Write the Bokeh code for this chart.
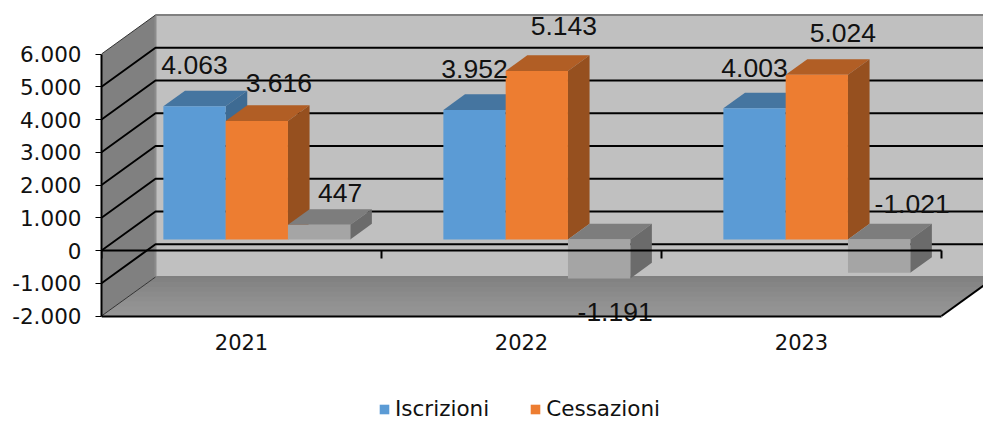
from bokeh.plotting import figure
from bokeh.models import Range1d, FixedTicker, Legend, LegendItem
from bokeh.core.properties import value
from bokeh.embed import file_html
from bokeh.resources import INLINE

# ---- data ----
years = ["2021", "2022", "2023"]
iscrizioni = [4063, 3952, 4003]
cessazioni = [3616, 5143, 5024]
saldo = [447, -1191, -1021]
y_ticks = [-2000, -1000, 0, 1000, 2000, 3000, 4000, 5000, 6000]
y_tick_labels = ["-2.000", "-1.000", "0", "1.000", "2.000", "3.000", "4.000", "5.000", "6.000"]
iscrizioni_labels = ["4.063", "3.952", "4.003"]
cessazioni_labels = ["3.616", "5.143", "5.024"]
saldo_labels = ["447", "-1.191", "-1.021"]

# ---- geometry of the fake 3D box (axis units) ----
DX, DY = 54 / 280, 39 / 32.75 * 1000      # shift of the back wall
Z0, Z1 = 0.285, 0.685                     # depth of the bars
GAP, BW = 0.166, 0.2225                   # bar layout inside a category
W, H = 983, 421
LEFT = 101
FLOOR_PX = 315.5                          # picture row of the -2000 line
PX_X, PX_Y = 280, 32.75 / 1000


def P(x, y, z=0.0):
    return x + z * DX, y + z * DY


def poly(*pts):
    return [a for a, _ in pts], [b for _, b in pts]


p = figure(width=W, height=H, output_backend="svg", toolbar_location=None,
           x_range=Range1d(0, (W - LEFT) / PX_X),
           y_range=Range1d(-2000 - (H - FLOOR_PX) / PX_Y, -2000 + FLOOR_PX / PX_Y),
           min_border_left=LEFT, min_border_bottom=0, min_border_right=0, min_border_top=0,
           outline_line_color=None, background_fill_color="white", border_fill_color="white")
p.grid.visible = False

YMIN, YMAX, XMAX = y_ticks[0], y_ticks[-1], float(len(years))

# walls
xs, ys = poly(P(0, YMIN, 1), P(XMAX, YMIN, 1), P(XMAX, YMAX, 1), P(0, YMAX, 1))
p.patch(xs, ys, fill_color="#C0C0C0", line_color=None)
xs, ys = poly(P(0, YMIN), P(0, YMIN, 1), P(0, YMAX, 1), P(0, YMAX))
p.patch(xs, ys, fill_color="#808080", line_color=None)

# floor, shaded from back to front
shades = ["#828282", "#858585", "#888888", "#8B8B8B", "#8E8E8E", "#919191", "#939393", "#959595"]
for i, c in enumerate(shades):
    z = 1 - i / len(shades)
    xs, ys = poly(P(0, YMIN), P(0, YMIN, z), P(XMAX, YMIN, z), P(XMAX, YMIN))
    p.patch(xs, ys, fill_color=c, line_color=None)

# wall edges
a, b = P(0, YMAX, 1), P(XMAX, YMAX, 1)
p.line([a[0], b[0]], [a[1], b[1]], line_color="#808080", line_width=2)
a, b = P(0, YMIN, 1), P(XMAX, YMIN, 1)
p.line([a[0], b[0]], [a[1], b[1]], line_color="#808080", line_width=2)
a, b = P(0, YMIN, 1), P(0, YMAX, 1)
p.line([a[0], b[0]], [a[1], b[1]], line_color="#8C8C8C", line_width=2)

# grid on back wall and left wall
for v in y_ticks[1:-1]:
    a, b, c = P(0, v), P(0, v, 1), P(XMAX, v, 1)
    p.line([a[0], b[0], c[0]], [a[1], b[1], c[1]], line_color="black", line_width=2)
for v in (YMAX, YMIN):
    a, b = P(0, v), P(0, v, 1)
    p.line([a[0], b[0]], [a[1], b[1]], line_color="#333333", line_width=1)
a, b = P(XMAX, YMIN), P(XMAX, YMIN, 1)
p.line([a[0], b[0]], [a[1], b[1]], line_color="black", line_width=2)

# bars
series = [
    (iscrizioni, "#5B9BD5", "#4575A0", "#3E6B93"),
    (cessazioni, "#ED7D31", "#B15E25", "#96501F"),
    (saldo, "#A5A5A5", "#7D7D7D", "#6B6B6B"),
]
front_renderers = []
for k, (vals, front, top, side) in enumerate(series):
    L, R, T, B = [], [], [], []
    for i, v in enumerate(vals):
        x0 = i + GAP + k * BW
        x1 = x0 + BW
        hi, lo = max(v, 0), min(v, 0)
        xs, ys = poly(P(x0, hi, Z0), P(x1, hi, Z0), P(x1, hi, Z1), P(x0, hi, Z1))
        p.patch(xs, ys, fill_color=top, line_color=None)
        xs, ys = poly(P(x1, lo, Z0), P(x1, hi, Z0), P(x1, hi, Z1), P(x1, lo, Z1))
        p.patch(xs, ys, fill_color=side, line_color=None)
        a, b = P(x0, lo, Z0), P(x1, hi, Z0)
        L.append(a[0]); R.append(b[0]); B.append(a[1]); T.append(b[1])
    front_renderers.append(p.quad(left=L, right=R, top=T, bottom=B, fill_color=front, line_color=None))

# front zero line with its ticks
p.line([0, XMAX], [0, 0], line_color="black", line_width=2)
tick_xs = list(range(len(years) + 1))
p.segment(tick_xs, [0] * len(tick_xs), tick_xs, [-8 / PX_Y] * len(tick_xs), line_color="black", line_width=2)

# data labels; offsets in pixels from the bar's front corner
label_dx = [[0, 0, 0], [22, 27, 26], [21, 16, 33]]
label_dy = [[41, 41, 40], [38, 45, 42], [32, -34, 69]]
for k, (vals, labels) in enumerate(zip((iscrizioni, cessazioni, saldo),
                                       (iscrizioni_labels, cessazioni_labels, saldo_labels))):
    xs_, ys_ = [], []
    for i, v in enumerate(vals):
        a = P(i + GAP + (k + 0.5) * BW, v, Z0)
        xs_.append(a[0]); ys_.append(a[1])
    p.text(xs_, ys_, text=labels, x_offset=label_dx[k], y_offset=[-d for d in label_dy[k]],
           text_font=value("Liberation Sans"), text_font_size="26.5px", text_color="#111111",
           text_align="center", text_baseline="middle")

# real axes
yax = p.yaxis[0]
yax.ticker = FixedTicker(ticks=y_ticks)
yax.major_label_overrides = dict(zip(y_ticks, y_tick_labels))
yax.bounds = (YMIN, YMAX)
yax.axis_line_color = "black"
yax.axis_line_width = 2
yax.major_tick_line_color = "black"
yax.major_tick_line_width = 1
yax.major_tick_in = 0
yax.major_tick_out = 6
yax.minor_tick_line_color = None
yax.major_label_standoff = 14
yax.major_label_text_font = "DejaVu Sans"
yax.major_label_text_font_size = "21.5px"
yax.major_label_text_color = "#111111"

xax = p.xaxis[0]
centers = [i + 0.5 for i in range(len(years))]
xax.fixed_location = YMIN
xax.ticker = FixedTicker(ticks=centers)
xax.major_label_overrides = dict(zip(centers, years))
xax.bounds = (0, XMAX)
xax.axis_line_color = "black"
xax.axis_line_width = 2
xax.major_tick_line_color = None
xax.minor_tick_line_color = None
xax.major_label_standoff = 12
xax.major_label_text_font = "DejaVu Sans"
xax.major_label_text_font_size = "21px"
xax.major_label_text_color = "#111111"

legend = Legend(items=[LegendItem(label="Iscrizioni", renderers=[front_renderers[0]]),
                       LegendItem(label="Cessazioni", renderers=[front_renderers[1]])],
                orientation="horizontal", location=(378 - LEFT, 0),
                border_line_color=None, background_fill_alpha=0,
                glyph_width=12, glyph_height=12, label_standoff=5, spacing=40, padding=0, margin=0,
                label_text_font="DejaVu Sans", label_text_font_size="21.5px", label_text_color="#111111")
p.add_layout(legend, "center")

open("out.html", "w").write(file_html(p, INLINE))
